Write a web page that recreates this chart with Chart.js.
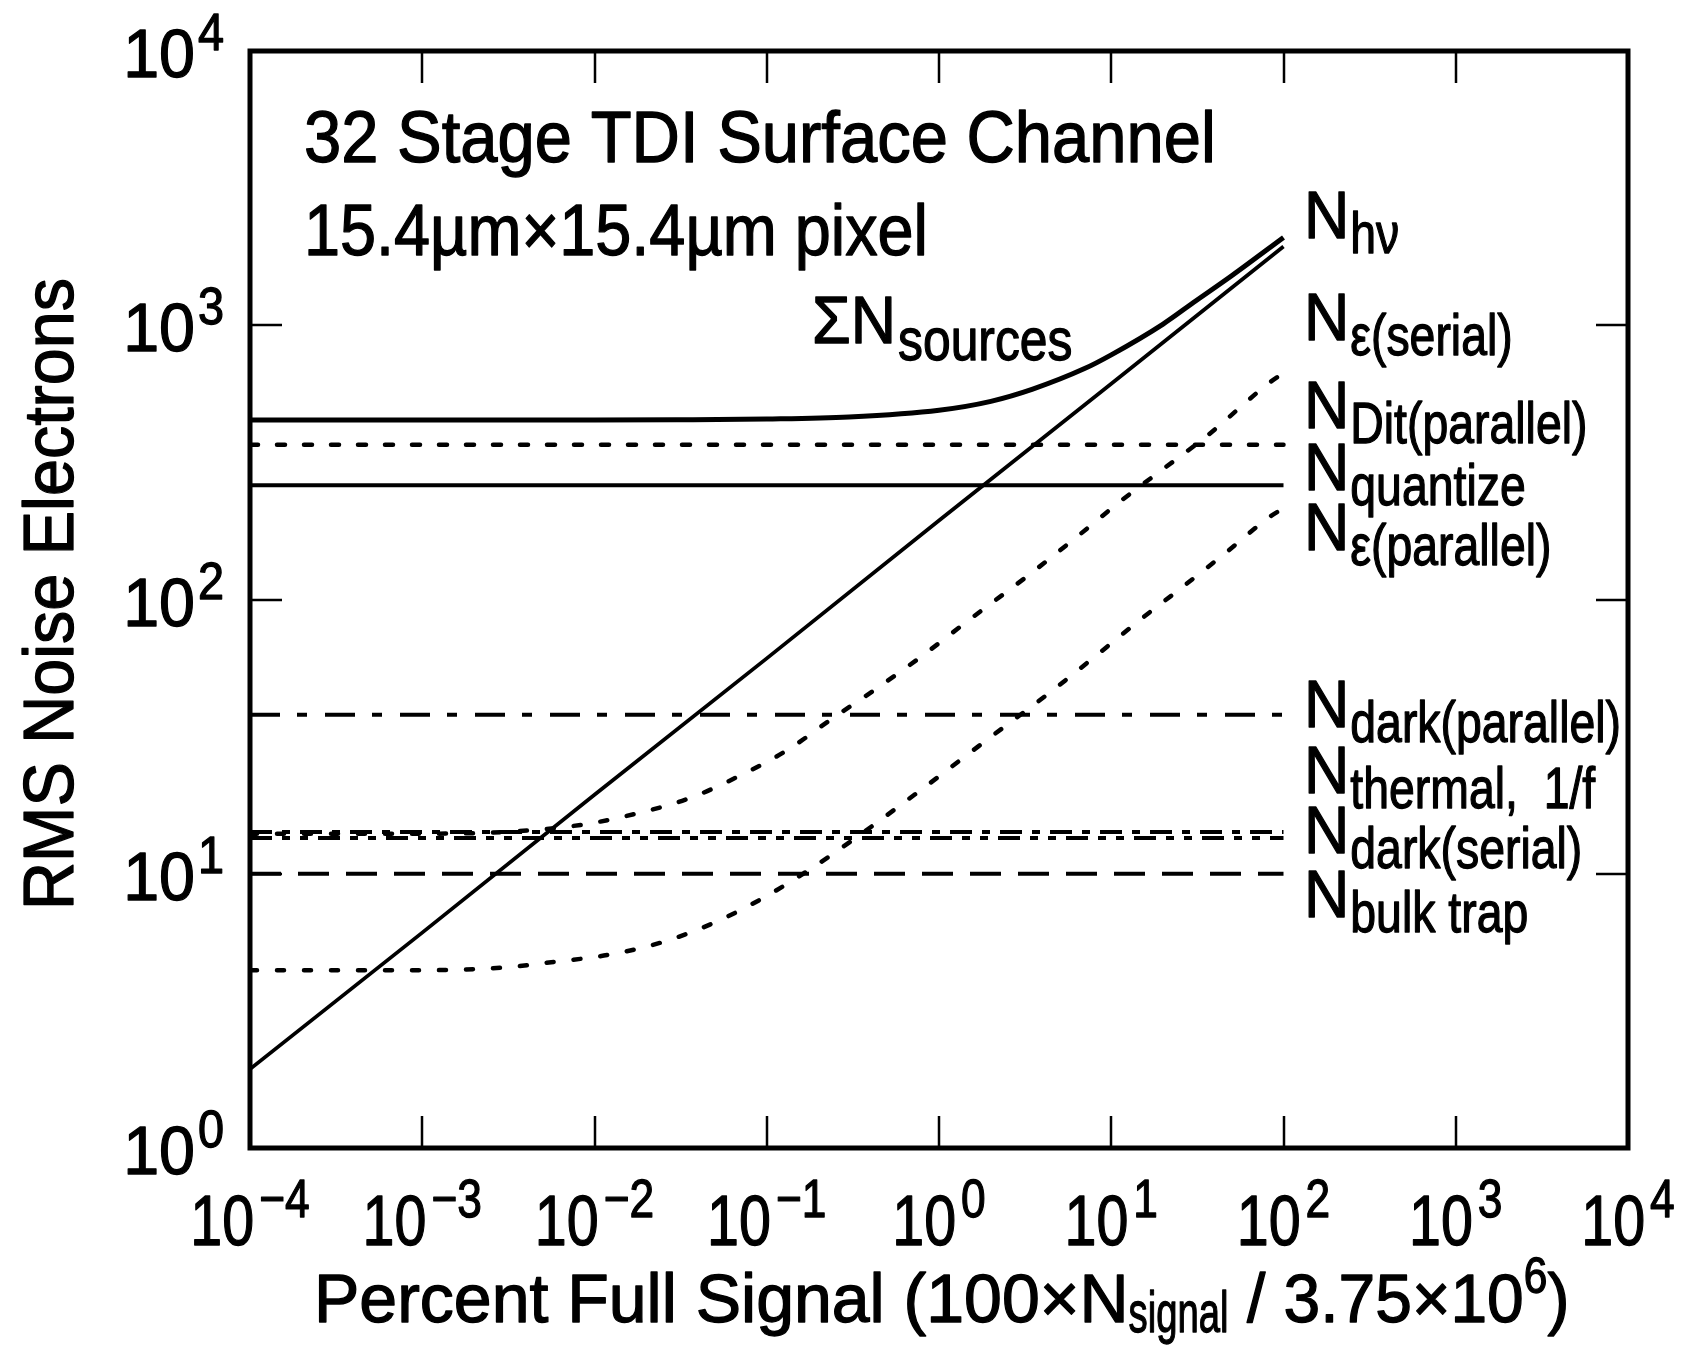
<!DOCTYPE html>
<html>
<head>
<meta charset="utf-8">
<title>RMS Noise Electrons - 32 Stage TDI</title>
<script src="https://cdn.jsdelivr.net/npm/chart.js@4.4.1/dist/chart.umd.min.js"></script>
<style>
    html, body { margin: 0; padding: 0; background: #fff; }
    #noiseChart { display: block; }
</style>
</head>
<body>
<canvas id="noiseChart" width="1683" height="1351"></canvas>
<script>
/**
 * Noise budget for a 32 stage TDI surface channel CCD
 * Log-log plot of RMS noise electrons vs percent full signal
 */

// Axis decades
const xTickValues = [1e-4, 1e-3, 1e-2, 1e-1, 1, 10, 100, 1e3, 1e4];
const xTickExps = ['\u22124', '\u22123', '\u22122', '\u22121', '0', '1', '2', '3', '4'];
const yTickValues = [1, 10, 100, 1000, 10000];
const yTickExps = ['0', '1', '2', '3', '4'];

// Shot noise N_hv
const shotX = [1e-4, 1e-3, 1e-2, 1e-1, 1, 10, 100];
const shotY = [1.94, 6.1, 19.4, 61, 194, 612, 1936];

// Sum of all noise sources
const totalX = [1e-4, 1e-3, 1e-2, 0.03, 0.1, 0.3, 1, 2, 3.5, 7, 10, 20, 30, 50, 100];
const totalY = [451, 451, 451, 452, 455, 463, 490, 528, 585, 695, 780, 1010, 1210, 1515, 2090];

// Transfer inefficiency noise, serial register
const serialX = [1e-4, 1e-3, 3e-3, 0.0085, 0.0177, 0.036, 0.07, 0.13, 0.243, 0.437, 0.81, 1.45, 3.5, 6.3, 11.2, 20, 35.8, 83, 100];
const serialY = [14.0, 14.0, 14.2, 15.1, 16.6, 18.9, 22.8, 28.1, 37, 47.5, 62.7, 83, 126, 169, 227, 299, 394, 618, 670];

// Transfer inefficiency noise, parallel register
const parallelX = [1e-4, 1e-3, 3e-3, 0.0058, 0.012, 0.025, 0.049, 0.095, 0.179, 0.317, 0.776, 1.9, 4.58, 8.24, 14.6, 25.9, 46.8, 83, 100];
const parallelY = [4.45, 4.45, 4.55, 4.77, 5.06, 5.64, 6.61, 8.15, 10.4, 13.3, 20.1, 30.8, 46.7, 62.7, 84, 111, 149, 200, 215];

// Signal independent sources (constant over the signal range)
const levelX = [1e-4, 100];
const ditY = [367, 367];
const quantizeY = [261, 261];
const darkParallelY = [38, 38];
const thermalY = [14.2, 14.2];
const darkSerialY = [13.5, 13.5];
const bulkTrapY = [10, 10];

// Curve labels on the right, top to bottom
const labelSubs = ['h\u03bd', '\u03b5(serial)', 'Dit(parallel)', 'quantize', '\u03b5(parallel)',
    'dark(parallel)', 'thermal,  1/f', 'dark(serial)', 'bulk trap'];

const FONT = '"Liberation Sans", Arial, Helvetica, sans-serif';

function pts(xs, ys) {
    return xs.map((x, i) => ({ x: x, y: ys[i] }));
}

function series(label, xs, ys, width, dash, smooth, cap) {
    return {
        label: label,
        data: pts(xs, ys),
        borderColor: '#000',
        borderWidth: width,
        borderDash: dash || [],
        borderCapStyle: cap || 'butt',
        pointRadius: 0,
        fill: false,
        cubicInterpolationMode: smooth ? 'monotone' : 'default',
        tension: 0
    };
}

/**
 * Text helpers (horizontally squeezed runs, sub/superscripts)
 */
function runWidth(ctx, text, size, sx) {
    ctx.font = size + 'px ' + FONT;
    return ctx.measureText(text).width * sx;
}

function putText(ctx, text, x, y, size, sx) {
    ctx.save();
    ctx.font = size + 'px ' + FONT;
    ctx.textAlign = 'left';
    ctx.textBaseline = 'alphabetic';
    ctx.fillStyle = '#000';
    ctx.strokeStyle = '#000';
    ctx.lineWidth = 1.3;
    ctx.lineJoin = 'round';
    ctx.translate(x, y);
    ctx.scale(sx, 1);
    ctx.fillText(text, 0, 0);
    ctx.strokeText(text, 0, 0);
    ctx.restore();
    return runWidth(ctx, text, size, sx);
}

// segments: [{t, size, sx, dy, gap}]
function putRich(ctx, segments, x, y) {
    let cx = x;
    segments.forEach(s => {
        cx += s.gap || 0;
        cx += putText(ctx, s.t, cx, y + (s.dy || 0), s.size, s.sx);
    });
    return cx - x;
}

function richWidth(ctx, segments) {
    return segments.reduce((w, s) => w + (s.gap || 0) + runWidth(ctx, s.t, s.size, s.sx), 0);
}

const decorations = {
    id: 'decorations',
    afterDraw(chart) {
        const ctx = chart.ctx;
        const area = chart.chartArea;
        const xs = chart.scales.x;
        const ys = chart.scales.y;
        const tickLen = 32;

        ctx.save();
        ctx.strokeStyle = '#000';
        ctx.setLineDash([]);

        // inward ticks on all four sides
        ctx.lineWidth = 2.5;
        ctx.beginPath();
        xTickValues.forEach(v => {
            const px = Math.round(xs.getPixelForValue(v));
            if (px <= area.left + 2 || px >= area.right - 2) return;
            ctx.moveTo(px, area.bottom);
            ctx.lineTo(px, area.bottom - tickLen);
            ctx.moveTo(px, area.top);
            ctx.lineTo(px, area.top + tickLen);
        });
        yTickValues.forEach(v => {
            const py = Math.round(ys.getPixelForValue(v));
            if (py <= area.top + 2 || py >= area.bottom - 2) return;
            ctx.moveTo(area.left, py);
            ctx.lineTo(area.left + tickLen, py);
            ctx.moveTo(area.right, py);
            ctx.lineTo(area.right - tickLen, py);
        });
        ctx.stroke();

        // frame
        ctx.lineWidth = 5;
        ctx.strokeRect(area.left, area.top, area.right - area.left, area.bottom - area.top);

        // x tick labels: 10 with exponent, centred on the tick
        xTickValues.forEach((v, i) => {
            const px = xs.getPixelForValue(v);
            const segs = [
                { t: '10', size: 70, sx: 0.82 },
                { t: xTickExps[i], size: 54, sx: 0.82, dy: -28, gap: 5 }
            ];
            putRich(ctx, segs, px - richWidth(ctx, segs) / 2, area.bottom + 97);
        });

        // y tick labels, right aligned against the frame
        yTickValues.forEach((v, i) => {
            const py = ys.getPixelForValue(v);
            const w10 = runWidth(ctx, '10', 68, 0.95);
            putText(ctx, '10', 195 - w10, py + 26, 68, 0.95);
            putText(ctx, yTickExps[i], 198, py - 1, 52, 0.9);
        });

        // axis titles
        putRich(ctx, [
            { t: 'Percent Full Signal (100\u00d7N', size: 68, sx: 1.0 },
            { t: 'signal', size: 58, sx: 0.66, dy: 10 },
            { t: ' / 3.75\u00d710', size: 68, sx: 0.97 },
            { t: '6', size: 50, sx: 0.85, dy: -29 },
            { t: ')', size: 68, sx: 0.97 }
        ], 314, 1322);

        ctx.save();
        ctx.translate(73, 594);
        ctx.rotate(-Math.PI / 2);
        const tw = runWidth(ctx, 'RMS Noise Electrons', 70, 0.95);
        putText(ctx, 'RMS Noise Electrons', -tw / 2, 0, 70, 0.95);
        ctx.restore();

        // panel caption
        putText(ctx, '32 Stage TDI Surface Channel', 304, 162, 72, 0.93);
        putText(ctx, '15.4\u00b5m\u00d715.4\u00b5m pixel', 304, 255, 72, 0.9);

        // sum label
        putRich(ctx, [
            { t: '\u03a3N', size: 66, sx: 0.95 },
            { t: 'sources', size: 60, sx: 0.83, dy: 17, gap: 2 }
        ], 812, 343);

        // curve labels on the right
        const baselines = [238, 340, 428, 490, 550, 727, 793, 853, 917];
        labelSubs.forEach((sub, i) => {
            putRich(ctx, [
                { t: 'N', size: 66, sx: 0.95 },
                { t: sub, size: 58, sx: 0.8, dy: 15, gap: 1 }
            ], 1304, baselines[i]);
        });

        ctx.restore();
    }
};

const datasets = [
    series('N_hv', shotX, shotY, 3.8, null, false),
    series('Sum N_sources', totalX, totalY, 5, null, true),
    series('N_eps(serial)', serialX, serialY, 4.5, [7, 20], true, 'round'),
    series('N_eps(parallel)', parallelX, parallelY, 4.5, [7, 20], true, 'round'),
    series('N_Dit(parallel)', levelX, ditY, 4.5, [8, 19], false, 'round'),
    series('N_quantize', levelX, quantizeY, 3.8, null, false),
    series('N_dark(parallel)', levelX, darkParallelY, 3.8, [30, 17, 10, 18], false),
    series('N_thermal,1/f', levelX, thermalY, 3.8, [22, 10, 8, 10], false),
    series('N_dark(serial)', levelX, darkSerialY, 3.8, [22, 10, 8, 10, 8, 10], false),
    series('N_bulk trap', levelX, bulkTrapY, 3.8, [31, 17], false)
];

new Chart(document.getElementById('noiseChart'), {
    type: 'line',
    data: { datasets: datasets },
    options: {
        responsive: false,
        animation: false,
        devicePixelRatio: 1,
        layout: {
            padding: { left: 250, right: 55, top: 51, bottom: 203 }
        },
        plugins: {
            legend: { display: false },
            tooltip: { enabled: false }
        },
        scales: {
            x: {
                type: 'logarithmic',
                display: false,
                min: 1e-4,
                max: 1e4
            },
            y: {
                type: 'logarithmic',
                display: false,
                min: 1,
                max: 1e4
            }
        }
    },
    plugins: [decorations]
});
</script>
</body>
</html>
